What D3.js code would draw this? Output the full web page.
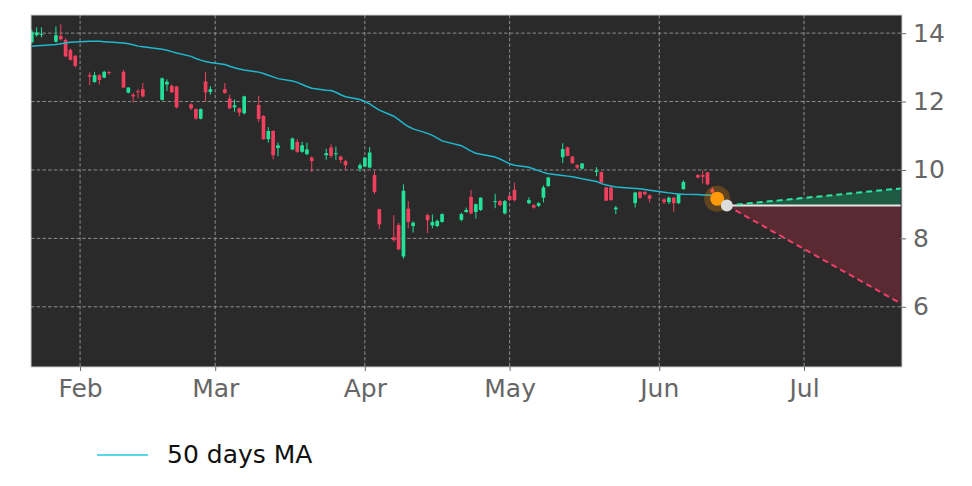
<!DOCTYPE html>
<html>
<head>
<meta charset="utf-8">
<script src="https://cdn.jsdelivr.net/npm/d3@7"></script>
<style>
  body { margin: 0; background: #fff; }
  svg text { font-family: "DejaVu Sans", sans-serif; }
</style>
</head>
<body>
<script>
// trading days shown on the chart (2025)
const dates = [
  '2025-01-22','2025-01-23','2025-01-24','2025-01-27','2025-01-28','2025-01-29','2025-01-30','2025-01-31',
  '2025-02-03','2025-02-04','2025-02-05','2025-02-06','2025-02-07','2025-02-10','2025-02-11','2025-02-12',
  '2025-02-13','2025-02-14','2025-02-18','2025-02-19','2025-02-20','2025-02-21','2025-02-24','2025-02-25',
  '2025-02-26','2025-02-27','2025-02-28','2025-03-03','2025-03-04','2025-03-05','2025-03-06','2025-03-07',
  '2025-03-10','2025-03-11','2025-03-12','2025-03-13','2025-03-14','2025-03-17','2025-03-18','2025-03-19',
  '2025-03-20','2025-03-21','2025-03-24','2025-03-25','2025-03-26','2025-03-27','2025-03-28','2025-03-31',
  '2025-04-01','2025-04-02','2025-04-03','2025-04-04','2025-04-07','2025-04-08','2025-04-09','2025-04-10',
  '2025-04-11','2025-04-14','2025-04-15','2025-04-16','2025-04-17','2025-04-21','2025-04-22','2025-04-23',
  '2025-04-24','2025-04-25','2025-04-28','2025-04-29','2025-04-30','2025-05-01','2025-05-02','2025-05-05',
  '2025-05-06','2025-05-07','2025-05-08','2025-05-09','2025-05-12','2025-05-13','2025-05-14','2025-05-15',
  '2025-05-16','2025-05-19','2025-05-20','2025-05-21','2025-05-22','2025-05-23','2025-05-27','2025-05-28',
  '2025-05-29','2025-05-30','2025-06-02','2025-06-03','2025-06-04','2025-06-05','2025-06-06','2025-06-09',
  '2025-06-10','2025-06-11','2025-06-12','2025-06-13'
];
const open = [
  13.73,13.94,13.96,13.75,13.92,13.80,13.51,13.34,
  12.77,12.57,12.77,12.70,12.86,12.87,12.26,12.20,
  12.30,12.36,12.05,12.50,12.46,12.44,11.92,11.78,
  11.50,12.59,12.28,12.36,12.09,11.83,11.80,11.66,
  11.90,11.58,10.90,11.14,10.64,10.60,10.82,10.53,
  10.46,10.36,10.43,10.66,10.47,10.39,10.26,10.04,
  10.10,10.07,9.85,8.85,8.03,8.39,7.47,8.87,
  8.36,8.68,8.38,8.36,8.48,8.54,8.77,9.21,
  8.77,8.83,9.06,9.09,8.73,9.24,9.42,9.03,
  8.97,8.95,9.19,9.53,10.37,10.66,10.39,10.14,
  10.04,9.94,9.94,9.49,9.49,8.85,9.03,9.36,
  9.36,9.26,9.14,9.06,9.19,9.03,9.44,9.85,
  9.85,9.93,9.44,9.30
];
const high = [
  14.10,14.17,14.17,14.20,14.26,13.85,13.55,13.36,
  12.85,12.87,12.80,12.90,12.89,12.92,12.42,12.25,
  12.36,12.54,12.70,12.65,12.50,12.46,11.95,11.80,
  11.80,12.87,12.45,12.54,12.20,12.06,11.82,12.17,
  12.17,11.60,11.25,11.16,10.80,10.95,10.90,10.82,
  10.80,10.40,10.62,10.75,10.68,10.42,10.30,10.20,
  10.38,10.67,9.97,8.87,8.68,8.45,9.58,9.09,
  8.50,8.72,8.70,8.55,8.73,8.75,8.90,9.42,
  9.02,9.20,9.30,9.12,9.12,9.27,9.63,9.20,
  9.00,9.06,9.55,9.80,10.78,10.68,10.40,10.17,
  10.20,10.08,9.96,9.50,9.50,8.95,9.36,9.38,
  9.38,9.28,9.18,9.22,9.21,9.30,9.70,9.88,
  9.98,9.95,9.50,9.35
];
const low = [
  13.70,13.90,13.88,13.72,13.78,13.30,13.20,13.00,
  12.48,12.55,12.50,12.68,12.78,12.40,12.24,11.97,
  12.10,12.12,12.03,12.31,12.25,11.80,11.75,11.47,
  11.48,12.00,12.20,12.22,11.78,11.70,11.57,11.62,
  11.40,10.88,10.80,10.31,10.40,10.58,10.50,10.50,
  10.44,9.94,10.30,10.35,10.30,10.20,9.99,9.95,
  10.08,10.05,9.29,8.27,7.90,7.65,7.41,8.29,
  8.17,8.15,8.30,8.33,8.46,8.50,8.75,8.70,
  8.58,8.80,8.88,8.95,8.70,9.10,9.08,9.00,
  8.87,8.92,9.05,9.50,10.20,10.40,10.18,10.02,
  10.02,9.82,9.60,9.10,9.10,8.71,8.90,9.15,
  9.25,9.05,9.00,9.00,8.77,9.00,9.42,9.75,
  9.60,9.55,9.30,9.10
];
const close = [
  14.04,14.02,13.98,13.94,13.82,13.32,13.22,13.04,
  12.73,12.77,12.63,12.87,12.83,12.41,12.41,12.15,
  12.27,12.15,12.68,12.58,12.27,11.83,11.80,11.50,
  11.78,12.27,12.36,12.25,11.80,11.89,11.68,12.15,
  11.49,10.90,11.14,10.43,10.72,10.92,10.53,10.72,
  10.60,10.26,10.49,10.41,10.49,10.29,10.14,10.14,
  10.36,10.51,9.36,8.41,7.95,7.68,9.39,8.48,
  8.46,8.53,8.48,8.51,8.71,8.71,8.83,8.73,
  9.00,9.19,9.09,8.97,9.09,9.12,9.12,9.12,
  8.90,9.03,9.49,9.78,10.61,10.41,10.20,10.07,
  10.19,9.98,9.63,9.10,9.12,8.90,9.34,9.19,
  9.29,9.16,9.06,9.19,9.03,9.29,9.65,9.78,
  9.80,9.58,9.34,9.16
];
const ma50 = [
  13.62,13.63,13.64,13.67,13.69,13.71,13.73,13.74,
  13.76,13.76,13.76,13.75,13.74,13.71,13.69,13.66,
  13.62,13.60,13.53,13.50,13.46,13.42,13.32,13.26,
  13.21,13.17,13.14,13.08,13.03,12.99,12.95,12.92,
  12.86,12.82,12.77,12.72,12.67,12.60,12.56,12.50,
  12.44,12.39,12.33,12.32,12.27,12.20,12.14,12.06,
  12.00,11.93,11.84,11.75,11.57,11.47,11.36,11.27,
  11.20,11.07,11.01,10.93,10.85,10.71,10.63,10.55,
  10.49,10.46,10.38,10.32,10.25,10.18,10.14,10.08,
  10.03,9.98,9.93,9.89,9.84,9.82,9.80,9.77,
  9.74,9.66,9.60,9.56,9.53,9.50,9.46,9.45,
  9.43,9.41,9.35,9.33,9.31,9.30,9.29,9.28,
  9.27,9.27,9.26,9.26
];

// forecast: start point and the two projected ends
const forecastDates = ['2025-06-15', '2025-07-21'];
const forecastStart = 8.96;
const forecastUp = [8.96, 9.46];
const forecastDown = [8.96, 6.10];

const yTicks = [6, 8, 10, 12, 14];

const width = 972, height = 486;
const plot = { left: 31, right: 902, top: 15, bottom: 367 };

const parse = d3.timeParse('%Y-%m-%d');
const candles = dates.map((d, i) => ({
  date: parse(d), o: open[i], h: high[i], l: low[i], c: close[i], ma: ma50[i]
}));
const fDates = forecastDates.map(parse);

const x = d3.scaleTime()
  .domain([new Date(2025, 0, 21, 20), new Date(2025, 6, 21, 7)])
  .range([plot.left, plot.right]);
const y = d3.scaleLinear()
  .domain([4.24, 14.53])
  .range([plot.bottom, plot.top]);

const svg = d3.select('body').append('svg')
  .attr('width', width).attr('height', height);

svg.append('defs').append('clipPath').attr('id', 'clip')
  .append('rect')
  .attr('x', plot.left).attr('y', plot.top)
  .attr('width', plot.right - plot.left).attr('height', plot.bottom - plot.top);

// plot background
svg.append('rect')
  .attr('x', plot.left).attr('y', plot.top)
  .attr('width', plot.right - plot.left).attr('height', plot.bottom - plot.top)
  .attr('fill', '#2a2a2a');

// grid
const grid = svg.append('g');
grid.selectAll('line.gx').data(x.ticks(d3.timeMonth.every(1))).join('line')
  .attr('x1', d => x(d)).attr('x2', d => x(d))
  .attr('y1', plot.top).attr('y2', plot.bottom);
grid.selectAll('line.gy').data(yTicks).join('line')
  .attr('x1', plot.left).attr('x2', plot.right)
  .attr('y1', d => y(d)).attr('y2', d => y(d));
grid.selectAll('line')
  .attr('stroke', '#9a9a9a').attr('stroke-width', 0.9)
  .attr('stroke-dasharray', '3.5,2.2');

const g = svg.append('g').attr('clip-path', 'url(#clip)');

// forecast areas
const xs = fDates.map(d => x(d));
g.append('path')
  .attr('d', d3.area().x(d => d[0]).y0(y(forecastStart)).y1(d => d[1])(
    xs.map((v, i) => [v, y(forecastUp[i])])))
  .attr('fill', '#1f5a45');
g.append('path')
  .attr('d', d3.area().x(d => d[0]).y0(y(forecastStart)).y1(d => d[1])(
    xs.map((v, i) => [v, y(forecastDown[i])])))
  .attr('fill', '#5a2a33');

// candles
const dayMs = 864e5;
const half = (x(new Date(dayMs * 0.38)) - x(new Date(0)));
const up = '#22e29a', down = '#f0405e';
const cg = g.selectAll('g.candle').data(candles).join('g');
cg.append('line')
  .attr('x1', d => x(d.date)).attr('x2', d => x(d.date))
  .attr('y1', d => y(d.h)).attr('y2', d => y(d.l))
  .attr('stroke', d => d.c >= d.o ? up : down).attr('stroke-width', 1);
cg.append('rect')
  .attr('x', d => x(d.date) - half).attr('width', half * 2)
  .attr('y', d => y(Math.max(d.o, d.c)))
  .attr('height', d => Math.max(1, Math.abs(y(d.o) - y(d.c))))
  .attr('fill', d => d.c >= d.o ? up : down);

// moving average
const maColor = '#1fb8cf';
g.append('path')
  .datum(candles)
  .attr('d', d3.line().x(d => x(d.date)).y(d => y(d.ma)))
  .attr('fill', 'none').attr('stroke', maColor).attr('stroke-width', 1.5);

// forecast lines
g.append('line')
  .attr('x1', xs[0]).attr('x2', xs[1])
  .attr('y1', y(forecastStart)).attr('y2', y(forecastStart))
  .attr('stroke', '#e6e6e6').attr('stroke-width', 2);
g.append('line')
  .attr('x1', xs[0]).attr('x2', xs[1])
  .attr('y1', y(forecastUp[0])).attr('y2', y(forecastUp[1]))
  .attr('stroke', '#2ee6a0').attr('stroke-width', 2).attr('stroke-dasharray', '6,4');
g.append('line')
  .attr('x1', xs[0]).attr('x2', xs[1])
  .attr('y1', y(forecastDown[0])).attr('y2', y(forecastDown[1]))
  .attr('stroke', '#f0406a').attr('stroke-width', 2).attr('stroke-dasharray', '6,4');

// last close marker and forecast start
const last = candles[candles.length - 1];
g.append('circle').attr('cx', x(last.date)).attr('cy', y(last.c)).attr('r', 13)
  .attr('fill', '#ff9500').attr('opacity', 0.25);
g.append('circle').attr('cx', x(last.date)).attr('cy', y(last.c)).attr('r', 7)
  .attr('fill', '#ff9a0a');
g.append('circle').attr('cx', xs[0]).attr('cy', y(forecastStart)).attr('r', 6)
  .attr('fill', '#dcdcdc');

// frame
svg.append('rect')
  .attr('x', plot.left).attr('y', plot.top)
  .attr('width', plot.right - plot.left).attr('height', plot.bottom - plot.top)
  .attr('fill', 'none').attr('stroke', '#cfcfcf').attr('stroke-width', 1);

// axes
const xAxis = svg.append('g')
  .attr('transform', `translate(0,${plot.bottom})`)
  .call(d3.axisBottom(x).ticks(d3.timeMonth.every(1)).tickFormat(d3.timeFormat('%b'))
    .tickSize(4).tickPadding(8));
const yAxis = svg.append('g')
  .attr('transform', `translate(${plot.right},0)`)
  .call(d3.axisRight(y).tickValues(yTicks).tickSize(4).tickPadding(7));
[xAxis, yAxis].forEach(a => {
  a.select('.domain').remove();
  a.selectAll('.tick line').attr('stroke', '#666');
  a.selectAll('.tick text').attr('fill', '#666').style('font-size', '25px')
    .style('font-family', '"DejaVu Sans", sans-serif');
});

// legend
svg.append('line').attr('x1', 97).attr('x2', 148).attr('y1', 455).attr('y2', 455)
  .attr('stroke', '#22c8e0').attr('stroke-width', 1.3);
svg.append('text').attr('x', 167).attr('y', 463)
  .style('font-size', '25px').attr('fill', '#111').text('50 days MA');
</script>
</body>
</html>
